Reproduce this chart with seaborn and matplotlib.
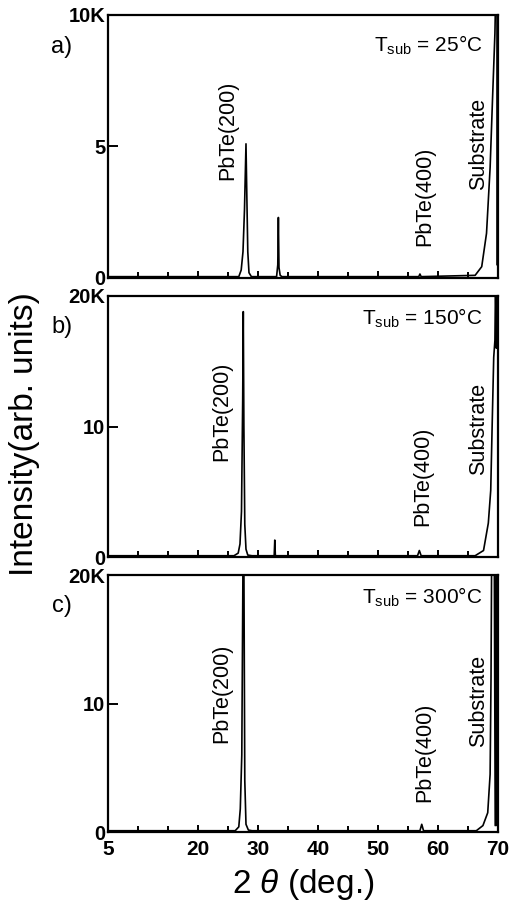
import numpy as np
import pandas as pd
import matplotlib
matplotlib.use("Agg")
import matplotlib.pyplot as plt
import matplotlib.transforms as mtrans
import seaborn as sns

# XRD patterns (2theta in deg, intensity in units of 1000 counts)
a_theta = [5, 20, 26.8, 27.2, 27.5, 27.75, 28.0, 28.15, 28.3, 28.5, 28.9,
           33.1, 33.3, 33.4, 33.5, 33.7, 34.0, 56.8, 57.0, 57.2, 66.2,
           67.3, 68.1, 68.7, 69.1, 69.5, 69.6, 69.85, 69.85]
a_counts = [0.05, 0.05, 0.05, 0.3, 1.0, 2.6, 5.1, 3.0, 1.0, 0.2, 0.05,
            0.05, 0.5, 2.3, 0.4, 0.1, 0.05, 0.05, 0.15, 0.05, 0.1,
            0.43, 1.7, 4.2, 6.8, 9.3, 10.5, 10.5, 0.5]

b_theta = [5, 20, 26.0, 26.7, 27.0, 27.25, 27.45, 27.55, 27.65, 27.8, 28.0,
           28.3, 29.0, 32.7, 32.8, 32.9, 56.6, 56.9, 57.2, 66.2, 67.6, 68.4,
           68.8, 69.05, 69.3, 69.5, 69.6, 69.75, 69.85, 69.9]
b_counts = [0.1, 0.1, 0.1, 0.3, 1.0, 3.5, 12.0, 18.8, 10.0, 2.5, 0.6,
            0.15, 0.1, 0.1, 1.3, 0.1, 0.1, 0.5, 0.1, 0.1, 0.5, 2.6,
            5.1, 10.3, 15.3, 16.6, 21.0, 16.0, 21.0, 21.0]

c_theta = [5, 20, 26.2, 26.8, 27.05, 27.3, 27.5, 27.65, 27.8, 28.0, 28.4,
           29.0, 57.0, 57.3, 57.6, 66.4, 67.5, 68.3, 68.7, 68.85, 68.95,
           69.4, 69.55, 69.7, 69.85, 69.9]
c_counts = [0.1, 0.1, 0.1, 0.4, 1.8, 6.0, 21.0, 21.0, 4.0, 0.6, 0.15,
            0.1, 0.1, 0.6, 0.1, 0.1, 0.5, 1.5, 4.5, 12.0, 21.0,
            21.0, 0.5, 21.0, 0.5, 21.0]

panel_tags = ["a)", "b)", "c)"]
sub_temps = ["25°C", "150°C", "300°C"]
y_max = [10, 20, 20]
y_ticks = [[0, 5, 10], [0, 10, 20], [0, 10, 20]]
y_ticklabels = [["0", "5", "10K"], ["0", "10", "20K"], ["0", "10", "20K"]]
x_ticks = [5, 20, 30, 40, 50, 60, 70]
x_minor = [10, 15, 25, 35, 45, 55, 65]
peak_names = ["PbTe(200)", "PbTe(400)", "Substrate"]
peak_pos = [[25.0, 57.8, 66.7], [24.0, 57.5, 66.7], [24.0, 57.8, 66.7]]

frames = []
for tag, th, cn in zip("abc", [a_theta, b_theta, c_theta], [a_counts, b_counts, c_counts]):
    frames.append(pd.DataFrame({"panel": tag, "theta": th, "counts": cn}))
df = pd.concat(frames, ignore_index=True)

sns.set_theme(style="ticks")
plt.rcParams["font.family"] = ["Liberation Sans", "DejaVu Sans"]
plt.rcParams["mathtext.fontset"] = "custom"
plt.rcParams["mathtext.rm"] = "Liberation Sans"
plt.rcParams["mathtext.it"] = "Liberation Sans:italic"
for key in ["text.color", "axes.labelcolor", "xtick.color", "ytick.color", "axes.edgecolor"]:
    plt.rcParams[key] = "black"

fig = plt.figure(figsize=(5.11, 9.09), dpi=100)
boxes = [[0.2114, 0.6942, 0.763, 0.2893],
         [0.2114, 0.3872, 0.763, 0.2872],
         [0.2114, 0.0847, 0.763, 0.2827]]

# vertical position (axes fraction) of the peak labels
label_y = [[0.56, 0.31, 0.51], [0.56, 0.31, 0.49], [0.54, 0.31, 0.51]]
tsub_y = [0.886, 0.915, 0.914]

for i, tag in enumerate("abc"):
    ax = fig.add_axes(boxes[i])
    sub = df[df.panel == tag]
    sns.lineplot(data=sub, x="theta", y="counts", sort=False, estimator=None,
                 color="black", lw=1.2, ax=ax)
    ax.set_xlim(5, 70)
    ax.set_ylim(0, y_max[i])
    ax.set_xlabel("")
    ax.set_ylabel("")
    ax.set_yticks(y_ticks[i])
    ax.set_yticklabels(y_ticklabels[i], fontsize=14.5, fontweight="bold")
    ax.set_xticks(x_ticks)
    ax.set_xticks(x_minor, minor=True)
    if i == 2:
        ax.set_xticklabels([str(v) for v in x_ticks], fontsize=15, fontweight="bold")
        # the bottom "0" sits a little above the axis in the original
        zero = ax.get_yticklabels()[0]
        zero.set_transform(zero.get_transform() +
                           mtrans.ScaledTranslation(0, 3 / 72, fig.dpi_scale_trans))
    else:
        ax.set_xticklabels([])
    ax.tick_params(axis="both", which="both", direction="in")
    ax.tick_params(axis="y", length=7, width=1.4, pad=2)
    ax.tick_params(axis="x", which="major", length=5, width=1.4, pad=6)
    ax.tick_params(axis="x", which="minor", length=4, width=1.4)
    for sp in ax.spines.values():
        sp.set_visible(True)
        sp.set_linewidth(1.6)

    ax.text(-0.118, 0.88, panel_tags[i], transform=ax.transAxes, fontsize=17,
            ha="center", va="center")
    ax.text(0.96, tsub_y[i], "$\\mathrm{T_{sub}}$ = " + sub_temps[i],
            transform=ax.transAxes, fontsize=15, ha="right", va="center")
    for name, xp, yp in zip(peak_names, peak_pos[i], label_y[i]):
        ax.text(xp, yp, name, transform=ax.get_xaxis_transform(), rotation=90,
                fontsize=15.5, ha="center", va="center")

fig.text(0.047, 0.5226, "Intensity(arb. units)", rotation=90, fontsize=24,
         ha="center", va="center")
fig.text(303 / 511, 0.027, "2 $\\it{\\theta}$ (deg.)", fontsize=24,
         ha="center", va="center")

fig.savefig("out.png", dpi=100)
